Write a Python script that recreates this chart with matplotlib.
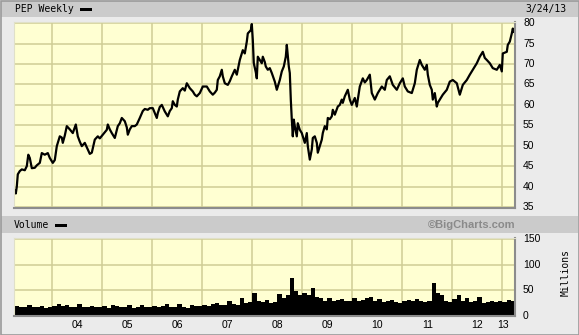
# PEP weekly price + volume, BigCharts style

import numpy as np
from matplotlib import pyplot as plt
from matplotlib.patches import Rectangle

# price line: decimal year, close
price_t = [2003.25, 2003.27, 2003.29, 2003.31, 2003.35, 2003.39, 2003.45, 2003.49, 2003.52, 2003.55,
           2003.59, 2003.65, 2003.69, 2003.75, 2003.79, 2003.85, 2003.91, 2003.95, 2004.01, 2004.05,
           2004.09, 2004.15, 2004.19, 2004.21, 2004.25, 2004.29, 2004.35, 2004.41, 2004.47, 2004.51,
           2004.55, 2004.59, 2004.65, 2004.71, 2004.75, 2004.79, 2004.85, 2004.91, 2004.95, 2005.01,
           2005.09, 2005.11, 2005.15, 2005.19, 2005.25, 2005.31, 2005.35, 2005.39, 2005.45, 2005.49,
           2005.51, 2005.55, 2005.59, 2005.65, 2005.69, 2005.75, 2005.81, 2005.85, 2005.91, 2005.95,
           2006.01, 2006.05, 2006.09, 2006.11, 2006.15, 2006.19, 2006.25, 2006.31, 2006.35, 2006.39,
           2006.41, 2006.45, 2006.49, 2006.51, 2006.55, 2006.61, 2006.65, 2006.69, 2006.75, 2006.81,
           2006.85, 2006.89, 2006.95, 2007.01, 2007.09, 2007.15, 2007.21, 2007.25, 2007.29, 2007.31,
           2007.35, 2007.39, 2007.41, 2007.45, 2007.51, 2007.55, 2007.59, 2007.65, 2007.69, 2007.75,
           2007.81, 2007.85, 2007.89, 2007.91, 2007.97, 2007.99, 2008.01, 2008.03, 2008.07, 2008.09,
           2008.11, 2008.15, 2008.19, 2008.21, 2008.25, 2008.27, 2008.31, 2008.35, 2008.39, 2008.45,
           2008.49, 2008.55, 2008.59, 2008.63, 2008.67, 2008.69, 2008.73, 2008.75, 2008.77, 2008.79,
           2008.81, 2008.83, 2008.85, 2008.89, 2008.91, 2008.95, 2008.99, 2009.05, 2009.09, 2009.11,
           2009.15, 2009.19, 2009.21, 2009.25, 2009.29, 2009.31, 2009.35, 2009.39, 2009.41, 2009.45,
           2009.49, 2009.51, 2009.55, 2009.59, 2009.61, 2009.65, 2009.71, 2009.75, 2009.79, 2009.81,
           2009.85, 2009.91, 2009.95, 2009.99, 2010.05, 2010.09, 2010.11, 2010.15, 2010.21, 2010.25,
           2010.29, 2010.35, 2010.39, 2010.45, 2010.51, 2010.59, 2010.65, 2010.69, 2010.75, 2010.81,
           2010.89, 2010.95, 2011.01, 2011.05, 2011.11, 2011.19, 2011.25, 2011.29, 2011.35, 2011.39,
           2011.45, 2011.49, 2011.51, 2011.55, 2011.59, 2011.61, 2011.65, 2011.69, 2011.71, 2011.75,
           2011.79, 2011.81, 2011.89, 2011.95, 2012.01, 2012.09, 2012.15, 2012.21, 2012.29, 2012.35,
           2012.41, 2012.49, 2012.55, 2012.61, 2012.65, 2012.69, 2012.75, 2012.81, 2012.89, 2012.95,
           2012.99, 2013.01, 2013.09, 2013.11, 2013.15, 2013.19, 2013.21, 2013.23]
price = [39.0, 38.3, 40.0, 43.0, 43.8, 44.2, 44.0, 45.0, 47.8, 47.0,
         44.5, 44.6, 45.2, 45.8, 48.2, 47.8, 48.2, 47.0, 45.8, 46.5,
         49.9, 52.3, 52.0, 50.7, 52.5, 54.8, 54.0, 53.1, 55.2, 52.3,
         51.0, 49.9, 50.7, 49.1, 48.0, 48.3, 51.5, 52.3, 51.8, 52.7,
         53.9, 55.2, 54.0, 53.1, 51.9, 54.8, 55.5, 56.8, 56.0, 54.5,
         52.7, 54.0, 54.8, 54.8, 55.2, 56.8, 58.5, 59.0, 58.8, 59.2,
         59.2, 58.0, 56.8, 58.0, 59.5, 60.0, 58.4, 57.2, 58.5, 59.2,
         60.9, 60.0, 59.6, 61.3, 63.3, 64.1, 63.5, 65.3, 64.1, 63.3,
         62.5, 62.1, 62.9, 64.5, 64.5, 63.3, 62.5, 63.0, 63.7, 66.1,
         67.0, 68.6, 67.0, 65.3, 64.9, 65.8, 67.0, 68.6, 67.4, 71.0,
         73.4, 72.6, 75.5, 77.5, 78.3, 79.8, 75.9, 70.2, 68.0, 66.5,
         71.8, 71.0, 70.2, 71.8, 70.5, 69.4, 68.6, 69.0, 67.8, 65.7,
         63.7, 66.1, 68.2, 69.4, 71.8, 74.7, 69.4, 67.8, 61.3, 56.4,
         52.3, 56.4, 54.8, 52.3, 55.5, 53.9, 53.1, 50.7, 53.1, 49.9,
         46.6, 49.1, 51.9, 52.3, 50.7, 48.3, 49.9, 51.5, 53.1, 54.8,
         54.0, 56.8, 56.5, 57.2, 58.8, 57.6, 59.6, 60.0, 61.3, 60.5,
         62.1, 63.7, 61.3, 60.0, 61.7, 59.6, 61.3, 64.5, 66.5, 65.5,
         66.1, 67.4, 62.9, 61.3, 62.9, 64.5, 63.7, 66.1, 67.0, 64.9,
         63.7, 65.3, 66.5, 64.5, 63.3, 62.9, 65.3, 68.6, 71.0, 69.8,
         68.6, 69.8, 67.4, 64.9, 63.7, 61.3, 62.9, 59.6, 60.5, 61.3,
         62.1, 62.5, 63.7, 65.7, 66.1, 65.3, 62.5, 64.9, 66.1, 67.4,
         68.6, 70.2, 71.8, 73.0, 71.5, 71.0, 70.2, 69.0, 68.6, 69.8,
         68.2, 72.6, 73.0, 74.7, 75.5, 77.5, 78.7, 77.9]

# monthly volume (millions), Mar 2003 .. Mar 2013
vol_start = 2003.17
volume = [28, 20, 18, 17, 22, 18, 17, 19, 16, 18,
          20, 24, 20, 22, 18, 17, 24, 18, 17, 20, 18, 17,
          19, 16, 22, 20, 17, 18, 22, 16, 17, 21, 18, 17,
          20, 18, 19, 23, 18, 17, 24, 18, 16, 22, 19, 20,
          22, 20, 24, 26, 22, 21, 30, 24, 22, 36, 26, 28,
          45, 30, 28, 32, 26, 28, 42, 36, 40, 75, 48, 40,
          45, 40, 55, 38, 35, 30, 36, 30, 32, 34, 30, 30,
          35, 30, 32, 36, 38, 30, 33, 28, 30, 32, 28, 26,
          30, 32, 30, 34, 30, 28, 30, 65, 45, 40, 30, 28,
          34, 40, 30, 35, 28, 30, 38, 26, 28, 30, 28, 30,
          28, 32, 30]

years = [2004, 2005, 2006, 2007, 2008, 2009, 2010, 2011, 2012, 2013]
year_labels = ["04", "05", "06", "07", "08", "09", "10", "11", "12", "13"]
price_ticks = [35, 40, 45, 50, 55, 60, 65, 70, 75, 80]
vol_ticks = [0, 50, 100, 150]

W, H = 579, 335
bg = "#ebebeb"
bar = "#cbcbcb"
panel = "#ffffd2"
grid = "#cfcd95"
mono = "DejaVu Sans Mono"

fig = plt.figure(figsize=(W / 100, H / 100), dpi=100, facecolor=bg)

def fx(px):
    return px / W

def fy(py):
    return 1 - py / H

# header bars + outer border
fig.patches.append(Rectangle((fx(1), fy(17)), fx(577), 16 / H, transform=fig.transFigure,
                             facecolor=bar, edgecolor="none", zorder=0))
fig.patches.append(Rectangle((fx(1), fy(233)), fx(577), 17 / H, transform=fig.transFigure,
                             facecolor=bar, edgecolor="none", zorder=0))
fig.patches.append(Rectangle((0.5 / W, 0.5 / H), 1 - 1 / W, 1 - 1 / H, transform=fig.transFigure,
                             facecolor="none", edgecolor="#9a9a9a", linewidth=1.2, zorder=0))

x0 = 2004 + (14 - 52.3) / 50
x1 = 2004 + (515 - 52.3) / 50

def style(ax):
    ax.set_facecolor(panel)
    ax.set_xlim(x0, x1)
    ax.set_xticks(years)
    ax.tick_params(length=0, labelbottom=False, labelleft=False)
    ax.grid(True, color=grid, linewidth=1.1)
    ax.set_axisbelow(True)
    for s in ["top", "left"]:
        ax.spines[s].set_color("#e0e0c8")
    for s in ["bottom", "right"]:
        ax.spines[s].set_color("#8c8c8c")
        ax.spines[s].set_linewidth(1.5)

# price panel
ax = fig.add_axes([fx(14), fy(208), fx(501), 186 / H])
style(ax)
ax.set_ylim(34.75, 80.3)
ax.set_yticks(price_ticks)
ax.plot(price_t, price, color="black", linewidth=1.6)
for p in price_ticks:
    fig.text(fx(523), ax.transData.transform((0, p))[1] / H, str(p),
             fontsize=7.5, family="Liberation Sans", va="center", ha="left")

# volume panel
av = fig.add_axes([fx(14), fy(316), fx(501), 78 / H])
style(av)
av.set_ylim(0, 152)
av.set_yticks(vol_ticks)
vol_t = vol_start + np.arange(len(volume)) / 12
av.bar(vol_t, volume, width=1 / 12, align="edge", color="black", linewidth=0)
for v in vol_ticks:
    fig.text(fx(523), av.transData.transform((0, v))[1] / H, str(v),
             fontsize=7.5, family="Liberation Sans", va="center", ha="left")
for yr, lab in zip(years, year_labels):
    xm = min(yr + 0.5, x1 - 0.23)
    fig.text(av.transData.transform((xm, 0))[0] / W, fy(325), lab,
             fontsize=7.5, family="Liberation Sans", ha="center", va="center")

# header texts
fig.text(fx(15), fy(9), "PEP Weekly", fontsize=7, family=mono, va="center")
fig.patches.append(Rectangle((fx(80), fy(11)), fx(12), 3 / H, transform=fig.transFigure,
                             facecolor="black", edgecolor="none"))
fig.text(fx(566), fy(9), "3/24/13", fontsize=7, family=mono, va="center", ha="right")
fig.text(fx(14), fy(225), "Volume", fontsize=7, family=mono, va="center")
fig.patches.append(Rectangle((fx(55), fy(227)), fx(12), 3 / H, transform=fig.transFigure,
                             facecolor="black", edgecolor="none"))
fig.text(fx(516), fy(225), "\u00a9BigCharts.com", fontsize=8, family="Liberation Sans",
         weight="bold", color="#8a8a8a", va="center", ha="right")
fig.text(fx(566), fy(272), "Millions", fontsize=7, family=mono, rotation=90,
         va="center", ha="center")

fig.savefig("out.png", dpi=100, facecolor=bg)
